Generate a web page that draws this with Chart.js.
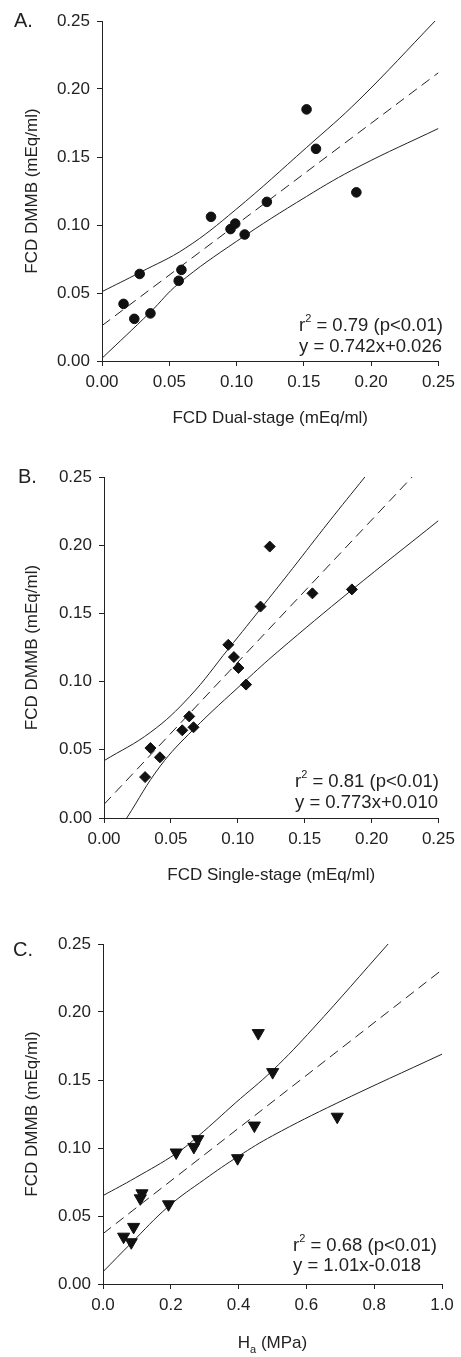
<!DOCTYPE html>
<html>
<head>
<meta charset="utf-8">
<title>FCD DMMB comparisons</title>
<script src="https://cdn.jsdelivr.net/npm/chart.js@4.4.1/dist/chart.umd.min.js"></script>
<style>
  html, body { margin: 0; padding: 0; background: #fff; }
  #wrap { position: relative; width: 461px; height: 1357px; }
  .panel { position: absolute; left: 0; width: 461px; }
</style>
</head>
<body>
<div id="wrap">
  <div class="panel" style="top:0;height:440px"><canvas id="chartA"></canvas></div>
  <div class="panel" style="top:440px;height:460px"><canvas id="chartB"></canvas></div>
  <div class="panel" style="top:900px;height:457px"><canvas id="chartC"></canvas></div>
</div>
<script>
// ---- data ----
// A. dual-stage
const dualX = [0.016, 0.024, 0.028, 0.036, 0.057, 0.059, 0.081, 0.0955, 0.099, 0.106, 0.1225, 0.152, 0.159, 0.189];
const dualY = [0.042, 0.031, 0.064, 0.035, 0.059, 0.067, 0.106, 0.097, 0.101, 0.093, 0.117, 0.185, 0.156, 0.124];
const dualFitX = [0, 0.25];
const dualFitY = [0.026, 0.212];
const dualUpX = [0, 0.028, 0.062, 0.099, 0.152, 0.191, 0.2475];
const dualUpY = [0.051, 0.065, 0.083, 0.111, 0.157, 0.192, 0.25];
const dualLoX = [0, 0.036, 0.057, 0.1, 0.152, 0.191, 0.25];
const dualLoY = [0.002, 0.036, 0.057, 0.088, 0.121, 0.143, 0.171];

// B. single-stage
const singleX = [0.0307, 0.0347, 0.0418, 0.0585, 0.0637, 0.0669, 0.0929, 0.0971, 0.1005, 0.1062, 0.117, 0.1239, 0.1558, 0.1853];
const singleY = [0.030, 0.0513, 0.0445, 0.0643, 0.0745, 0.0665, 0.127, 0.118, 0.110, 0.0978, 0.155, 0.199, 0.1647, 0.1676];
const singleFitX = [0, 0.2303];
const singleFitY = [0.010, 0.25];
const singleUpX = [0, 0.035, 0.064, 0.093, 0.12, 0.141, 0.168, 0.195];
const singleUpY = [0.042, 0.063, 0.089, 0.124, 0.157, 0.183, 0.217, 0.25];
const singleLoX = [0.017, 0.042, 0.067, 0.105, 0.13, 0.185, 0.25];
const singleLoY = [0, 0.038, 0.065, 0.100, 0.122, 0.167, 0.218];

// C. Ha
const haX = [0.0608, 0.0834, 0.0903, 0.11, 0.115, 0.1933, 0.2159, 0.268, 0.2797, 0.397, 0.4465, 0.458, 0.5005, 0.691];
const haY = [0.0348, 0.0307, 0.042, 0.063, 0.0667, 0.0586, 0.0967, 0.1008, 0.1065, 0.0925, 0.1165, 0.1845, 0.1558, 0.123];
const haFitX = [0, 1.0];
const haFitY = [0.037, 0.231];
const haUpX = [0, 0.095, 0.216, 0.282, 0.39, 0.5, 0.62, 0.841];
const haUpY = [0.065, 0.078, 0.096, 0.109, 0.133, 0.157, 0.188, 0.25];
const haLoX = [0, 0.083, 0.193, 0.3, 0.4, 0.5, 0.69, 1.0];
const haLoY = [0.009, 0.030, 0.057, 0.077, 0.094, 0.109, 0.133, 0.169];

// ticks
const yTicks = [0, 0.05, 0.10, 0.15, 0.20, 0.25];
const yTickLabels = ['0.00', '0.05', '0.10', '0.15', '0.20', '0.25'];
const fcdTicks = [0, 0.05, 0.10, 0.15, 0.20, 0.25];
const fcdTickLabels = ['0.00', '0.05', '0.10', '0.15', '0.20', '0.25'];
const haTicks = [0, 0.2, 0.4, 0.6, 0.8, 1.0];
const haTickLabels = ['0.0', '0.2', '0.4', '0.6', '0.8', '1.0'];

const INK = '#222';
const FONT = '"Liberation Sans", Arial, sans-serif';

function pts(xs, ys) {
    return xs.map((x, i) => ({ x: x, y: ys[i] }));
}

// panel letter, r^2 note and sub-scripted axis title
const panelText = {
    id: 'panelText',
    afterDraw(chart, args, o) {
        const ctx = chart.ctx;
        ctx.save();
        ctx.fillStyle = INK;
        ctx.textAlign = 'left';
        ctx.textBaseline = 'alphabetic';
        ctx.font = '20px ' + FONT;
        ctx.fillText(o.label, o.labelX, o.labelY);

        const big = '18.5px ' + FONT, small = '11px ' + FONT;
        let x = o.noteX;
        ctx.font = big;
        ctx.fillText('r', x, o.noteY1);
        x += ctx.measureText('r').width;
        ctx.font = small;
        ctx.fillText('2', x, o.noteY1 - 9);
        x += ctx.measureText('2').width;
        ctx.font = big;
        ctx.fillText(' = ' + o.r2 + ' (p<0.01)', x, o.noteY1);
        ctx.fillText(o.eq, o.noteX, o.noteY2);

        if (o.subTitle) {
            const t = o.subTitle;
            ctx.font = '17px ' + FONT;
            const w1 = ctx.measureText(t[0]).width;
            const w3 = ctx.measureText(t[2]).width;
            ctx.font = '11px ' + FONT;
            const w2 = ctx.measureText(t[1]).width;
            const ca = chart.chartArea;
            let sx = (ca.left + ca.right) / 2 - (w1 + w2 + w3) / 2;
            ctx.font = '17px ' + FONT;
            ctx.fillText(t[0], sx, o.subY);
            ctx.font = '11px ' + FONT;
            ctx.fillText(t[1], sx + w1, o.subY + 5);
            ctx.font = '17px ' + FONT;
            ctx.fillText(t[2], sx + w1 + w2, o.subY);
        }
        ctx.restore();
    }
};

function axis(ticks, labels, extra) {
    return Object.assign({
        type: 'linear',
        min: ticks[0],
        max: ticks[ticks.length - 1],
        afterBuildTicks: s => { s.ticks = ticks.map(v => ({ value: v })); },
        ticks: {
            autoSkip: false,
            color: INK,
            font: { family: FONT, size: 17 },
            callback: (v, i) => labels[i]
        },
        grid: { drawOnChartArea: false, drawTicks: true, tickLength: 5, color: INK },
        border: { display: true, color: INK, width: 1 }
    }, extra);
}

function makePanel(id, cfg) {
    const line = (xs, ys, dash) => ({
        type: 'line',
        data: pts(xs, ys),
        borderColor: INK,
        borderWidth: 1,
        borderDash: dash || [],
        pointRadius: 0,
        fill: false,
        tension: 0.4,
        order: 2
    });
    const xAxis = axis(cfg.xTicks, cfg.xLabels, {
        position: 'bottom',
        afterFit: s => { s.height = cfg.xHeight; },
        title: cfg.xTitle ? {
            display: true, text: cfg.xTitle, color: INK,
            font: { family: FONT, size: 17 },
            padding: { top: 0, bottom: cfg.xTitlePad }
        } : { display: false }
    });
    xAxis.ticks.padding = 6;
    const yAxis = axis(yTicks, yTickLabels, {
        position: 'left',
        afterFit: s => { s.width = cfg.yWidth; },
        title: {
            display: true, text: 'FCD DMMB (mEq/ml)', color: INK,
            font: { family: FONT, size: 17 },
            padding: { top: 22, bottom: 0 }
        }
    });
    yAxis.ticks.padding = 7;

    new Chart(document.getElementById(id), {
        type: 'scatter',
        data: {
            datasets: [
                {
                    data: pts(cfg.x, cfg.y),
                    backgroundColor: '#111',
                    borderColor: '#111',
                    borderWidth: 1,
                    pointStyle: cfg.marker,
                    pointRadius: cfg.markerSize,
                    rotation: cfg.rotation || 0,
                    order: 1
                },
                line(cfg.fitX, cfg.fitY, [10, 6]),
                line(cfg.upX, cfg.upY),
                line(cfg.loX, cfg.loY)
            ]
        },
        options: {
            responsive: true,
            maintainAspectRatio: false,
            devicePixelRatio: 1,
            animation: false,
            layout: { padding: { top: cfg.top, right: cfg.right, bottom: 0, left: 0 } },
            plugins: {
                legend: { display: false },
                tooltip: { enabled: false },
                panelText: cfg.text
            },
            scales: { x: xAxis, y: yAxis }
        },
        plugins: [panelText]
    });
}

makePanel('chartA', {
    x: dualX, y: dualY, fitX: dualFitX, fitY: dualFitY,
    upX: dualUpX, upY: dualUpY, loX: dualLoX, loY: dualLoY,
    marker: 'circle', markerSize: 4.8,
    xTicks: fcdTicks, xLabels: fcdTickLabels,
    xTitle: 'FCD Dual-stage (mEq/ml)', xHeight: 79, xTitlePad: 11,
    yWidth: 102, top: 21, right: 19,
    text: { label: 'A.', labelX: 14, labelY: 27, noteX: 299, noteY1: 330.5, noteY2: 352,
            r2: '0.79', eq: 'y = 0.742x+0.026' }
});

makePanel('chartB', {
    x: singleX, y: singleY, fitX: singleFitX, fitY: singleFitY,
    upX: singleUpX, upY: singleUpY, loX: singleLoX, loY: singleLoY,
    marker: 'rectRot', markerSize: 5.5,
    xTicks: fcdTicks, xLabels: fcdTickLabels,
    xTitle: 'FCD Single-stage (mEq/ml)', xHeight: 82, xTitlePad: 14,
    yWidth: 104, top: 37, right: 18,
    text: { label: 'B.', labelX: 18, labelY: 43, noteX: 295, noteY1: 346.5, noteY2: 367.5,
            r2: '0.81', eq: 'y = 0.773x+0.010' }
});

makePanel('chartC', {
    x: haX, y: haY, fitX: haFitX, fitY: haFitY,
    upX: haUpX, upY: haUpY, loX: haLoX, loY: haLoY,
    marker: 'triangle', markerSize: 7, rotation: 180,
    xTicks: haTicks, xLabels: haTickLabels,
    xTitle: null, xHeight: 73, xTitlePad: 0,
    yWidth: 103, top: 44, right: 19,
    text: { label: 'C.', labelX: 13, labelY: 56, noteX: 293, noteY1: 351, noteY2: 371,
            r2: '0.68', eq: 'y = 1.01x-0.018',
            subTitle: ['H', 'a', ' (MPa)'], subY: 448 }
});
</script>
</body>
</html>
